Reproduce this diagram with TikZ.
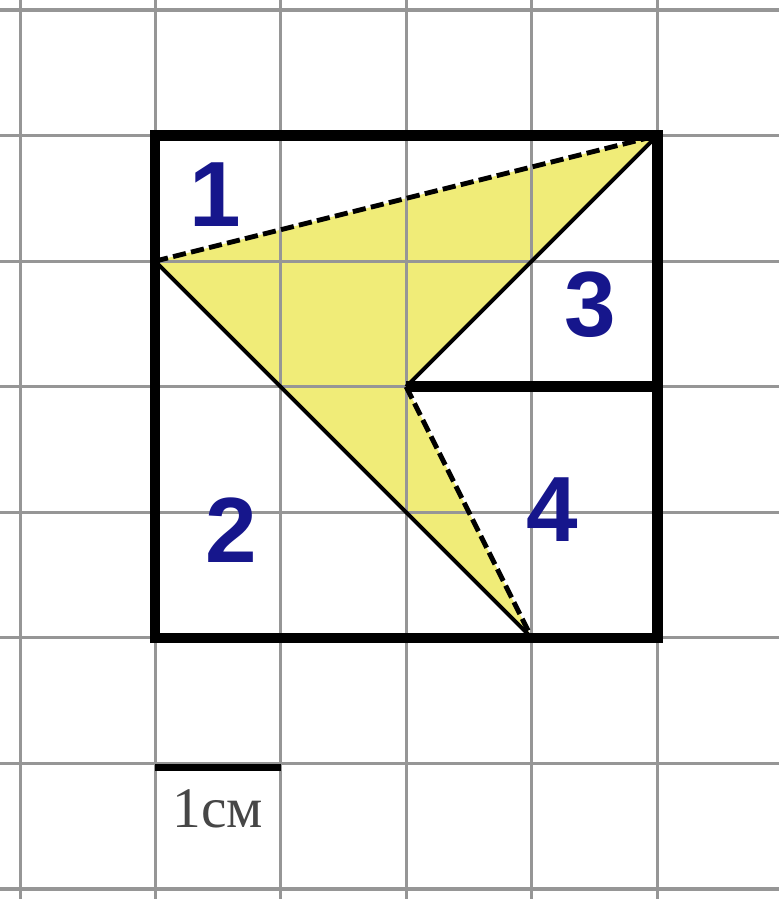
\documentclass[tikz,border=0pt]{standalone}
\usepackage{fontspec}
\setmainfont{Liberation Serif}
\newfontfamily\labfont{Liberation Sans}
\definecolor{gridgray}{RGB}{150,150,150}
\definecolor{fillyellow}{RGB}{240,236,120}
\definecolor{labblue}{RGB}{22,22,140}
\definecolor{scalegray}{RGB}{70,70,70}
\tikzset{
  gridline/.style={gridgray, line width=0.7pt},
  frame/.style={black, line width=2.4pt, line join=miter},
  solidedge/.style={black, line width=0.9pt},
  dashededge/.style={black, line width=1.1pt, dash pattern=on 3pt off 1.2pt},
  numlabel/.style={font=\labfont\bfseries\fontsize{21}{21}\selectfont, text=labblue, inner sep=0pt},
  scalelabel/.style={font=\fontsize{13}{13}\selectfont, text=scalegray, inner sep=0pt}
}
\begin{document}
\begin{tikzpicture}
\useasboundingbox (-1.235,-2.08) rectangle (4.97,5.08);
\fill[white] (-1.235,-2.08) rectangle (4.97,5.08);
% points
\coordinate (B) at (0,3);
\coordinate (A) at (4,4);
\coordinate (C) at (2,2);
\coordinate (D) at (3,0);
\coordinate (R) at (4,2);
% yellow region
\fill[fillyellow] (B) -- (A) -- (C) -- (D) -- cycle;
% grid
\foreach \x in {0,...,4} \draw[gridline] (\x,-2.08) -- (\x,5.08);
\draw[gridline] (-1.07,-2.08) -- (-1.07,5.08);
\foreach \y in {-2,...,5} \draw[gridline] (-1.235,\y) -- (4.97,\y);
% edges
\draw[dashededge] (B) -- (A);
\draw[solidedge] (A) -- (C);
\draw[dashededge] (C) -- (D);
\draw[solidedge] (B) -- (D);
% frame
\draw[frame] (0,0) rectangle (4,4);
\draw[frame] (C) -- (R);
% labels
\node[numlabel] (l1) at (0.48,3.53) {1};
\node[numlabel] (l2) at (0.61,0.86) {2};
\node[numlabel] (l3) at (3.47,2.65) {3};
\node[numlabel] (l4) at (3.16,1.02) {4};
% scale bar
\coordinate (S1) at (0,-1.03);
\coordinate (S2) at (1,-1.03);
\draw[black, line width=1.6pt] (S1) -- (S2);
\node[scalelabel] (sl) at (0.5,-1.36) {1см};
\end{tikzpicture}
\end{document}
